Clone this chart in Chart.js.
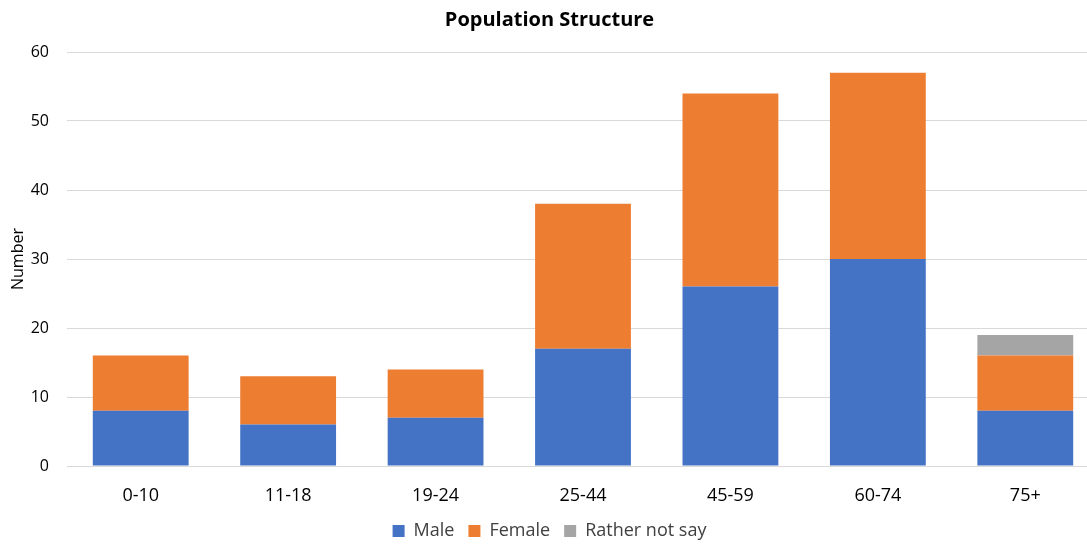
<!DOCTYPE html>
<html><head><meta charset="utf-8">
<script src="https://cdn.jsdelivr.net/npm/chart.js@4"></script>
<style>html,body{margin:0;padding:0;overflow:hidden;background:#fff}#wrap{width:1106px;height:547px;position:relative}</style>
</head><body><div id="wrap"><canvas id="c"></canvas></div>
<script>
const categories = ['0-10','11-18','19-24','25-44','45-59','60-74','75+'];
const male = [8,6,7,17,26,30,8];
const female = [8,7,7,21,28,27,8];
const ratherNotSay = [0,0,0,0,0,0,3];
const yTicks = [0,10,20,30,40,50,60];

const F = "'Open Sans', Lato, sans-serif";
const legendHeightFix = {
  id: 'legendHeightFix',
  beforeLayout(chart) {
    const lg = chart.legend;
    if (lg && !lg._fixed) {
      const orig = lg.fit.bind(lg);
      lg.fit = function() { orig(); this.height = 39; this.minSize && (this.minSize.height = 39); };
      lg._fixed = true;
    }
  }
};
new Chart(document.getElementById('c'), {
  type: 'bar',
  data: {
    labels: categories,
    datasets: [
      {label:'Male', data: male, backgroundColor:'#4472c4'},
      {label:'Female', data: female, backgroundColor:'#ed7d31'},
      {label:'Rather not say', data: ratherNotSay, backgroundColor:'#a5a5a5'}
    ]
  },
  plugins: [legendHeightFix],
  options: {
    responsive: true, maintainAspectRatio: false, animation: false,
    layout: {padding: {left: 0, right: 7, top: 0, bottom: 0}},
    datasets: {bar: {categoryPercentage: 1, barPercentage: 0.65}},
    plugins: {
      title: {display: true, text: 'Population Structure', color:'#000',
        font: {family: F, size: 20, weight: 'bold'}, padding: {top: 8, bottom: 20}},
      legend: {position: 'bottom', labels: {color:'#404040', font:{family:F, size:18},
        boxWidth: 12, boxHeight: 12, padding: 14}},
      tooltip: {enabled: false}
    },
    scales: {
      x: {stacked: true,
        afterFit: s => { s.height = 42; },
        grid: {display: false},
        border: {color: '#d9d9d9', width: 1},
        ticks: {color:'#000', font:{family:F, size:18}, padding: 11}},
      y: {stacked: true, min: 0, max: 60,
        afterFit: s => { s.width = 67; },
        afterBuildTicks: s => { s.ticks = yTicks.map(v => ({value: v})); },
        grid: {color: '#d9d9d9', drawTicks: false},
        border: {display: false},
        title: {display: true, text: 'Number', color:'#000', font:{family:F, size:16}, padding: {top: 9, bottom: 0}},
        ticks: {color:'#000', font:{family:F, size:16}, padding: 18}}
    }
  }
});
</script></body></html>
